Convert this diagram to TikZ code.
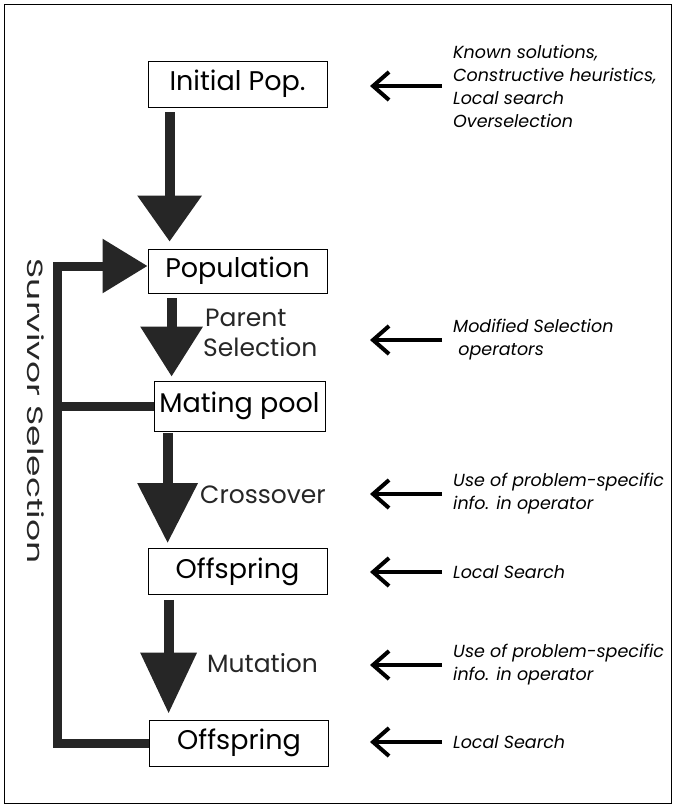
\documentclass[tikz,border=0pt]{standalone}
\usepackage{fontspec}
\setmainfont{Poppins}
\usetikzlibrary{arrows.meta}
\definecolor{darkfill}{gray}{0.15}
\begin{document}
\begin{tikzpicture}[x=1pt,y=-1pt,
  box/.style={draw=black, line width=0.8pt, fill=white, minimum width=179pt,
    minimum height=46pt, inner sep=0pt, font=\fontsize{27}{30}\selectfont},
  oplabel/.style={anchor=west, inner sep=0pt, font=\fontsize{25}{28}\selectfont, text=black!85},
  note/.style={anchor=west, inner sep=0pt, align=left,
    font=\itshape\fontsize{17.5}{23}\selectfont},
  bigarrow/.style n args={2}{draw=darkfill, line width=10pt,
    -{Triangle[length=#1pt,width=#2pt]}},
  feed/.style={draw=darkfill, line width=9pt},
  pointer/.style={draw=black, line width=4pt,
    -{Straight Barb[length=16pt,width=28pt]}}]
\useasboundingbox (0,0) rectangle (674,806);
\draw[line width=1pt] (4,4) rectangle (671,803);

% boxes
\node[box] (init) at (237.5,84) {Initial Pop.};
\node[box, minimum height=44pt] (pop) at (237.5,271) {Population};
\node[box, minimum width=171pt, minimum height=50pt] (mate) at (239.5,406) {Mating pool};
\node[box] (off1) at (237.5,571.5) {Offspring};
\node[box] (off2) at (239,743) {Offspring};

% operator labels
\node[oplabel] (parent) at (205,318) {Parent};
\node[oplabel] (parsel) at (203,347) {Selection};
\node[oplabel] (cross) at (200,495) {Crossover};
\node[oplabel] (mut) at (207,663) {Mutation};

% main flow arrows
\draw[bigarrow={46}{62}, shorten <=5pt, shorten >=7pt]
  ([xshift=22pt]init.south west) -- ([xshift=22pt]pop.north west);
\draw[bigarrow={50}{60}, shorten <=5pt, shorten >=4pt]
  ([xshift=24pt]pop.south west) -- ([xshift=18pt]mate.north west);
\draw[bigarrow={60}{58}, shorten <=2pt, shorten >=5pt]
  ([xshift=14pt]mate.south west) -- ([xshift=20pt]off1.north west);
\draw[bigarrow={61}{54}, shorten <=5pt, shorten >=6pt]
  ([xshift=21pt]off1.south west) -- ([xshift=19.5pt]off2.north west);

% survivor selection loop
\coordinate (barTop) at (57.5,266);
\coordinate (barBot) at (57.5,743);
\draw[feed, line join=miter, -{Triangle[length=45pt,width=52pt]}]
  (off2.west) -- (barBot) -- (barTop) -- (barTop -| pop.west);
\draw[feed] (mate.west) -- (mate.west -| barTop);
\node[rotate=-90, inner sep=0pt, font=\fontsize{22}{24}\selectfont, text=black!85] (surv)
  at (36,411) {\scalebox{1.57}[1]{Survivor Selection}};

% annotations
\node[note] (n1) at (453,86) {Known solutions,\\Constructive heuristics,\\Local search\\Overselection};
\node[note] (n2) at (453,340) {Modified Selection\\\ operators};
\node[note] (n3) at (453,494) {Use of problem-specific\\info. in operator};
\node[note] (n4) at (453,572) {Local Search};
\node[note] (n5) at (453,665) {Use of problem-specific\\info. in operator};
\node[note] (n6) at (453,742) {Local Search};

\coordinate (p1) at (370,86);
\coordinate (p2) at (370,340);
\coordinate (p3) at (370,494);
\coordinate (p4) at (370,572);
\coordinate (p5) at (370,665);
\coordinate (p6) at (370,742);
\foreach \i in {1,...,6}{
  \draw[pointer, shorten <=11pt] (n\i.west) -- (p\i);
}
\end{tikzpicture}
\end{document}
